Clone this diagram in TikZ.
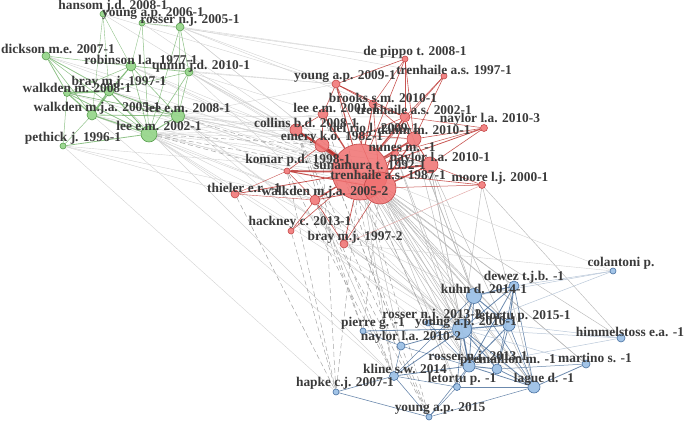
\documentclass[tikz,border=0pt]{standalone}
\usepackage{fontspec}
\setmainfont{Liberation Serif}
\pgfdeclarelayer{bg}
\pgfsetlayers{bg,main}
\definecolor{gfill}{RGB}{146,212,134}
\definecolor{gline}{RGB}{88,158,78}
\definecolor{gedge}{RGB}{96,168,86}
\definecolor{rfill}{RGB}{240,112,112}
\definecolor{rline}{RGB}{196,72,72}
\definecolor{redge}{RGB}{186,44,40}
\definecolor{bfill}{RGB}{152,190,228}
\definecolor{bline}{RGB}{72,112,160}
\definecolor{bedge}{RGB}{58,98,146}
\definecolor{labc}{RGB}{58,58,58}
\tikzset{
  gn/.style={circle,inner sep=0pt,fill=gfill,draw=gline,line width=0.6pt,fill opacity=0.9},
  rn/.style={circle,inner sep=0pt,fill=rfill,draw=rline,line width=0.6pt,fill opacity=0.85},
  bn/.style={circle,inner sep=0pt,fill=bfill,draw=bline,line width=0.6pt,fill opacity=0.9},
  lab/.style={inner sep=0pt,text=labc,font=\bfseries\fontsize{13.4}{14}\selectfont},
  ge/.style={draw=gedge,line width=#1,opacity=0.7},
  re/.style={draw=redge,line width=#1,opacity=0.8},
  be/.style={draw=bedge,line width=#1,opacity=0.75},
  faint/.style={draw=gray!35,line width=0.4pt},
  mid/.style={draw=gray!55,line width=0.45pt},
  dsh/.style={draw=gray!70,line width=0.5pt,dash pattern=on 5pt off 3pt},
}
\begin{document}
\begin{tikzpicture}[x=1pt,y=-1pt]
\useasboundingbox (0,0) rectangle (685,422);
% green nodes
\node[gn,minimum size=6pt]  (g1)  at (103,14) {};
\node[gn,minimum size=6pt]  (g2)  at (142,23) {};
\node[gn,minimum size=8pt]  (g3)  at (180,27) {};
\node[gn,minimum size=8pt]  (g4)  at (46,56) {};
\node[gn,minimum size=10pt] (g5)  at (131,66) {};
\node[gn,minimum size=8pt]  (g6)  at (189,72) {};
\node[gn,minimum size=10pt] (g7)  at (109,91) {};
\node[gn,minimum size=7pt]  (g8)  at (67,93) {};
\node[gn,minimum size=10pt] (g9)  at (92,115) {};
\node[gn,minimum size=13pt] (g10) at (178,116) {};
\node[gn,minimum size=16pt] (g11) at (149,134) {};
\node[gn,minimum size=6pt]  (g12) at (63,146) {};
% red nodes
\node[rn,minimum size=6pt]  (r1)  at (405,59) {};
\node[rn,minimum size=6pt]  (r2)  at (444,76) {};
\node[rn,minimum size=8pt]  (r3)  at (336,84) {};
\node[rn,minimum size=8pt]  (r4)  at (373,104) {};
\node[rn,minimum size=10pt] (r5)  at (323,114) {};
\node[rn,minimum size=10pt] (r6)  at (405,117) {};
\node[rn,minimum size=7pt]  (r7)  at (484,128) {};
\node[rn,minimum size=12pt] (r8)  at (296,130) {};
\node[rn,minimum size=6pt]  (r9)  at (362,135) {};
\node[rn,minimum size=14pt] (r10) at (414,139) {};
\node[rn,minimum size=14pt] (r11) at (322,145) {};
\node[rn,minimum size=7pt]  (r12) at (395,153) {};
\node[rn,minimum size=16pt] (r13) at (430,165) {};
\node[rn,minimum size=6pt]  (r14) at (287,171) {};
\node[rn,minimum size=56pt] (r15) at (360,172) {};
\node[rn,minimum size=32pt] (r16) at (380,188) {};
\node[rn,minimum size=7pt]  (r17) at (482,185) {};
\node[rn,minimum size=8pt]  (r18) at (235,194) {};
\node[rn,minimum size=10pt] (r19) at (315,200) {};
\node[rn,minimum size=6pt]  (r20) at (291,231) {};
\node[rn,minimum size=8pt]  (r21) at (344,244) {};
% blue nodes
\node[bn,minimum size=6pt]  (b1)  at (613,271) {};
\node[bn,minimum size=10pt] (b2)  at (514,286) {};
\node[bn,minimum size=15pt] (b3)  at (474,296) {};
\node[bn,minimum size=6pt]  (b4)  at (428,323) {};
\node[bn,minimum size=19pt] (b5)  at (462,329) {};
\node[bn,minimum size=12pt] (b6)  at (509,325) {};
\node[bn,minimum size=6pt]  (b7)  at (363,331) {};
\node[bn,minimum size=8pt]  (b8)  at (621,338) {};
\node[bn,minimum size=8pt]  (b9)  at (401,346) {};
\node[bn,minimum size=12pt] (b10) at (469,366) {};
\node[bn,minimum size=10pt] (b11) at (497,369) {};
\node[bn,minimum size=8pt]  (b12) at (586,364) {};
\node[bn,minimum size=9pt]  (b13) at (394,376) {};
\node[bn,minimum size=7pt]  (b14) at (457,387) {};
\node[bn,minimum size=6pt]  (b15) at (336,392) {};
\node[bn,minimum size=12pt] (b16) at (534,387) {};
\node[bn,minimum size=6pt]  (b17) at (429,417) {};

\begin{pgfonlayer}{bg}
% green-red faint
\foreach \a/\b in {g11/r16,g11/r8,g11/r5,g11/r18,g11/r19,g11/r10,g11/r13,
  g10/r16,g10/r11,g10/r8,g10/r3,g10/r13,g10/r10,g10/r6,
  g6/r15,g6/r16,g6/r8,g6/r11,g6/r3,g6/r5,g5/r15,g5/r16,g5/r11,g5/r3,
  g3/r1,g3/r3,g3/r15,g3/r16,g3/r6,g3/r2,g2/r15,g2/r1,g1/r3,g1/r15,
  g7/r15,g7/r16,g7/r11,g7/r14,g9/r15,g9/r19,g9/r14,g8/r15,g8/r11,
  g4/r15,g4/r8,g12/r15,g12/r19,g12/r18,
  g11/b5,g11/b3,g10/b5,g10/b10,g6/b5,g9/b13,g12/b15,g11/b16,g7/b13,g10/b16}
  \draw[faint] (\a) -- (\b);
\foreach \a/\b in {g11/r15,g11/r11,g10/r15,g11/r14}
  \draw[dsh] (\a) -- (\b);
% red-blue
\foreach \a/\b in {r15/b3,r15/b5,r15/b6,r15/b10,r15/b11,r15/b16,r15/b2,r15/b13,r15/b9,r15/b12,r15/b8,r15/b14,
  r16/b3,r16/b5,r16/b10,r16/b16,r16/b2,r16/b6,r16/b11,r16/b12,r16/b14,
  r13/b5,r13/b3,r13/b10,r13/b16,r10/b5,r10/b3,r17/b5,r17/b16,r17/b8,
  r21/b5,r19/b5,r19/b13,r11/b5,r11/b10,r6/b3,r12/b5,r12/b10}
  \draw[mid] (\a) -- (\b);
\draw[faint] (r21) -- (b1);
\draw[faint] (r15) -- (b1);
\foreach \a/\b in {r14/b15,r14/b13,r8/b7,r8/b13,r11/b15,r11/b9,r19/b17,r18/b15,r5/b9,
  r15/b17,r15/b15,r16/b7,r3/b13,r20/b15,r11/b17,r8/b17,r19/b7,r15/b4}
  \draw[dsh] (\a) -- (\b);
% green cluster
\foreach \a/\b/\w in {g11/g12/0.8,g11/g9/1.0,g11/g7/1.0,g11/g10/1.0,g11/g5/0.6,g11/g6/0.6,g11/g2/0.5,g11/g8/0.7,g11/g4/0.5,
  g7/g8/2.0,g7/g9/2.0,g7/g4/0.8,g7/g5/0.8,g7/g10/0.8,g7/g6/0.5,g7/g1/0.4,
  g8/g4/0.8,g8/g9/1.2,g8/g10/0.6,g8/g12/0.5,g8/g5/0.5,
  g9/g4/0.6,g9/g10/0.8,g9/g12/0.5,g9/g5/0.5,
  g5/g6/0.6,g5/g10/0.6,g5/g1/0.4,g5/g4/0.5,
  g6/g10/0.6,g6/g3/0.5,g3/g10/0.5,g3/g11/0.5,g3/g2/0.4,g2/g5/0.4,g1/g9/0.4}
  \draw[ge=\w] (\a) -- (\b);
% red cluster
\foreach \a/\b/\w in {r15/r1/0.6,r15/r2/0.6,r15/r3/1.0,r15/r4/1.0,r15/r5/1.4,r15/r6/1.4,r15/r7/0.8,r15/r8/1.6,r15/r9/0.8,
  r15/r10/1.8,r15/r11/2.4,r15/r12/1.0,r15/r13/1.8,r15/r14/1.8,r15/r17/0.6,r15/r18/0.8,r15/r19/1.4,r15/r20/0.6,r15/r21/0.8,
  r16/r3/0.6,r16/r4/0.6,r16/r6/1.0,r16/r8/0.8,r16/r10/1.2,r16/r11/1.2,r16/r13/1.4,r16/r14/1.0,r16/r17/0.5,r16/r19/0.8,r16/r21/0.6,
  r3/r1/0.6,r3/r6/0.8,r3/r5/0.6,r3/r4/0.6,r1/r6/0.6,r1/r4/0.5,r1/r10/0.6,r2/r6/0.6,r2/r10/0.6,
  r7/r10/0.6,r7/r13/0.6,r7/r6/0.5,r7/r12/0.5,r5/r8/0.6,r5/r11/0.6,r8/r11/0.8,r6/r10/0.8,r10/r13/0.8,r12/r13/0.6,
  r19/r20/0.6,r19/r21/0.6,r19/r14/0.5,r14/r11/0.6,r18/r19/0.4,r18/r14/0.4,r17/r13/0.5,r9/r6/0.5,r9/r10/0.5,r4/r10/0.6,r4/r6/0.6}
  \draw[re=\w] (\a) -- (\b);
\draw[redge!40,line width=0.5pt] (r17) -- (r21);
% blue cluster
\foreach \a/\b/\w in {b3/b2/1.2,b3/b5/1.4,b3/b6/1.0,b2/b6/1.0,b2/b5/0.8,b2/b10/0.8,b2/b16/0.6,b2/b11/0.6,
  b5/b7/0.8,b5/b9/0.8,b5/b10/1.4,b5/b13/0.8,b5/b14/0.6,b5/b11/0.8,b5/b16/0.8,b5/b6/1.2,b5/b4/0.6,
  b6/b10/1.0,b6/b11/0.8,b6/b16/0.6,b10/b13/0.8,b10/b11/1.0,b10/b16/0.8,b10/b17/0.6,b10/b14/0.6,
  b11/b16/0.8,b16/b12/0.8,b12/b11/0.5,b13/b15/0.6,b13/b17/0.6,b15/b17/0.6,b17/b14/0.5,b17/b16/0.5,
  b9/b13/0.5,b9/b10/0.5,b7/b9/0.5,b3/b10/0.8,b3/b16/0.6,b3/b13/0.5,b14/b16/0.5,b13/b14/0.5,b4/b10/0.5}
  \draw[be=\w] (\a) -- (\b);
\foreach \a/\b in {b1/b3,b1/b5,b8/b5,b8/b10,b8/b6,b12/b5,b1/b2}
  \draw[draw=bedge!35,line width=0.5pt] (\a) -- (\b);
\end{pgfonlayer}

% labels
\node[lab] (lg1)  at (113,6)   {hansom j.d. 2008-1};
\node[lab] (lg2)  at (153,14)  {young a.p. 2006-1};
\node[lab] (lg3)  at (190,20)  {rosser n.j. 2005-1};
\node[lab] (lg4)  at (58,49)   {dickson m.e. 2007-1};
\node[lab] (lg5)  at (141,60)  {robinson l.a. 1977-1};
\node[lab] (lg6)  at (201,66)  {quinn j.d. 2010-1};
\node[lab] (lg7)  at (119,82)  {bray m.j. 1997-1};
\node[lab] (lg8)  at (77,88)   {walkden m. 2008-1};
\node[lab] (lg9)  at (97,108)  {walkden m.j.a. 2005-1};
\node[lab] (lg10) at (188,108) {lee e.m. 2008-1};
\node[lab] (lg11) at (159,126) {lee e.m. 2002-1};
\node[lab] (lg12) at (73,138)  {pethick j. 1996-1};
\node[lab] (lr1)  at (415,52)  {de pippo t. 2008-1};
\node[lab] (lr2)  at (454,70)  {trenhaile a.s. 1997-1};
\node[lab] (lr3)  at (345,77)  {young a.p. 2009-1};
\node[lab] (lr4)  at (383,98)  {brooks s.m. 2010-1};
\node[lab] (lr5)  at (336,108) {lee e.m. 2001-1};
\node[lab] (lr6)  at (414,110) {trenhaile a.s. 2002-1};
\node[lab] (lr7)  at (490,119) {naylor l.a. 2010-3};
\node[lab] (lr8)  at (306,123) {collins b.d. 2008-1};
\node[lab] (lr9)  at (374,128) {del rio l. 2009-1};
\node[lab] (lr10) at (424,130) {dahm m. 2010-1};
\node[lab] (lr11) at (332,137) {emery k.o. 1982-1};
\node[lab] (lr12) at (402,147) {nunes m. -1};
\node[lab] (lr13) at (440,158) {naylor l.a. 2010-1};
\node[lab] (lr14) at (298,160) {komar p.d. 1998-1};
\node[lab] (lr15) at (370,165) {sunamura t. 1992-1};
\node[lab] (lr16) at (388,175) {trenhaile a.s. 1987-1};
\node[lab] (lr17) at (500,178) {moore l.j. 2000-1};
\node[lab] (lr18) at (244,188) {thieler e.r. -1};
\node[lab] (lr19) at (325,192) {walkden m.j.a. 2005-2};
\node[lab] (lr20) at (300,222) {hackney c. 2013-1};
\node[lab] (lr21) at (355,237) {bray m.j. 1997-2};
\node[lab] (lb1)  at (621,263) {colantoni p.};
\node[lab] (lb2)  at (524,277) {dewez t.j.b. -1};
\node[lab] (lb3)  at (484,289) {kuhn d. 2014-1};
\node[lab] (lb4)  at (432,315) {rosser n.j. 2013-2};
\node[lab] (lb5)  at (466,323) {young a.p. 2010-1};
\node[lab] (lb6)  at (523,316) {letortu p. 2015-1};
\node[lab] (lb7)  at (373,323) {pierre g. -1};
\node[lab] (lb8)  at (630,332) {himmelstoss e.a. -1};
\node[lab] (lb9)  at (411,337) {naylor l.a. 2010-2};
\node[lab] (lb10) at (478,357) {rosser n.j. 2013-1};
\node[lab] (lb11) at (508,360) {premaillon m. -1};
\node[lab] (lb12) at (595,358) {martino s. -1};
\node[lab] (lb13) at (405,369) {kline s.w. 2014};
\node[lab] (lb14) at (462,379) {letortu p. -1};
\node[lab] (lb15) at (345,383) {hapke c.j. 2007-1};
\node[lab] (lb16) at (544,379) {lague d. -1};
\node[lab] (lb17) at (440,409) {young a.p. 2015};
\end{tikzpicture}
\end{document}
